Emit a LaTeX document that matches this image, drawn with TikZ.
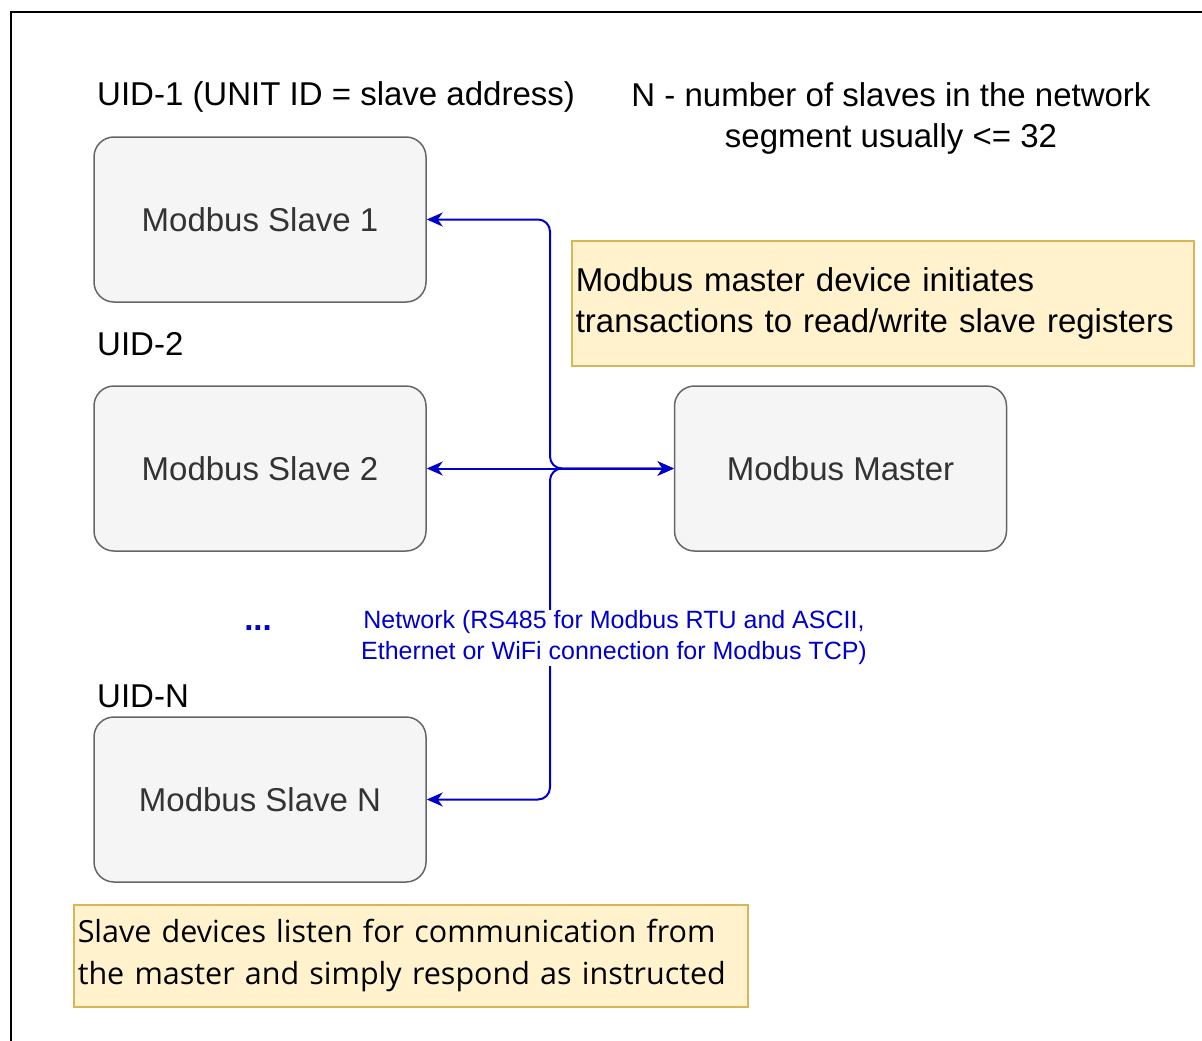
\documentclass[tikz,border=0pt]{standalone}
\usepackage{fontspec}
\setmainfont{Liberation Sans}
\newfontfamily\notefont{Open Sans}
\usetikzlibrary{arrows.meta}
\definecolor{boxfill}{HTML}{F5F5F5}
\definecolor{boxline}{HTML}{666666}
\definecolor{boxtext}{HTML}{333333}
\definecolor{notefill}{HTML}{FFF2CC}
\definecolor{noteline}{HTML}{D6B656}
\definecolor{bus}{HTML}{0000CC}
\begin{document}
\begin{tikzpicture}[x=1pt,y=-1pt,
  device/.style={draw=boxline, fill=boxfill, line width=1.5pt, rounded corners=20pt,
    minimum width=332pt, minimum height=165pt, text=boxtext,
    font=\fontsize{33}{40}\selectfont, inner sep=0pt},
  note/.style={draw=noteline, fill=notefill, line width=1.5pt, align=left,
    inner xsep=4pt, inner ysep=0pt, anchor=north west},
  lbl/.style={font=\fontsize{33}{41}\selectfont, inner sep=0pt, text=black},
  link/.style={draw=bus, line width=2pt, rounded corners=12pt,
    arrows={Stealth[length=16pt,width=14pt,inset=5pt]-Stealth[length=16pt,width=14pt,inset=5pt]}},
  netlbl/.style={fill=white, inner sep=1pt, align=center, text=bus,
    font=\fontsize{25}{31}\selectfont},
]
\useasboundingbox (0,0) rectangle (1202,1041);
\fill[white] (0,0) rectangle (1202,1041);
\draw[line width=2pt] (11,1041) -- (11,12) -- (1202,12);

\node[device] (s1) at (260,219.5) {Modbus Slave 1};
\node[device] (s2) at (260,468.5) {Modbus Slave 2};
\node[device] (sN) at (260,799.5) {Modbus Slave N};
\node[device] (master) at (840.5,468.5) {Modbus Master};

\node[lbl, anchor=base west] (uid1) at (97,106) {UID-1 (UNIT ID = slave address)};
\node[lbl, anchor=base west] (uid2) at (97,355) {UID-2};
\node[lbl, anchor=base west] (uidN) at (97,707) {UID-N};
\node[lbl, align=center] (nnote) at (891,118) {N - number of slaves in the network\\segment usually <= 32};
\node[lbl, text=bus, anchor=base, font=\bfseries\fontsize{33}{41}\selectfont] (dots) at (258,630) {...};

\node[note, text width=614pt, minimum height=125pt, font=\fontsize{33}{41}\selectfont] (mnote) at (571,240)
  {Modbus master device initiates\\transactions to read/write slave registers};
\node[note, text width=666pt, minimum height=102pt, font=\notefont\fontsize{30.5}{42}\selectfont] (snote) at (73,904)
  {Slave devices listen for communication from\\the master and simply respond as instructed};

\coordinate (hub) at (550,468.5);
\draw[link] (s1.east) -| (hub) -- (master.west);
\draw[link] (sN.east) -| (hub) -- (master.west);
\draw[link] (s2.east) -- (master.west);

\node[netlbl] (net) at (614,638) {Network (RS485 for Modbus RTU and ASCII,\\Ethernet or WiFi connection for Modbus TCP)};
\end{tikzpicture}
\end{document}
